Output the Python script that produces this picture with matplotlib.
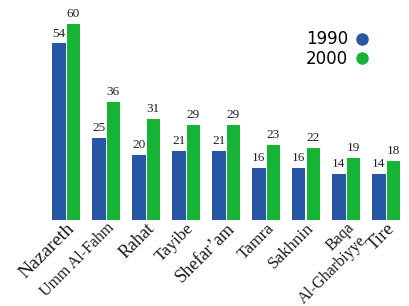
import numpy as np
import matplotlib.pyplot as plt
from matplotlib.lines import Line2D

cities = ['Nazareth', 'Umm Al-Fahm', 'Rahat', 'Tayibe', 'Shefar\u2019am',
          'Tamra', 'Sakhnin', 'Baqa\nAl-Gharbiyye', 'Tire']
v1990 = [54, 25, 20, 21, 21, 16, 16, 14, 14]
v2000 = [60, 36, 31, 29, 29, 23, 22, 19, 18]
label_sizes = [14, 11.5, 13, 12.5, 13, 12.5, 12.5, 11.5, 13.5]

blue = '#2756a6'
green = '#15b435'

fig = plt.figure(figsize=(4.09, 3.06), dpi=100)
ax = fig.add_axes([40/409, 86/306, 369/409, 220/306])

x = np.arange(len(cities))
w = 0.33
b1 = ax.bar(x - w/2 - 0.0125, v1990, w, color=blue)
b2 = ax.bar(x + w/2 + 0.0125, v2000, w, color=green)

for bars, vals in ((b1, v1990), (b2, v2000)):
    for r, v in zip(bars, vals):
        ax.text(r.get_x() + r.get_width()/2, v + 1.2, str(v), ha='center', va='bottom',
                fontsize=9.5, family='Liberation Serif', color='#222222')

ax.set_xlim(-0.65, 8.575)
ax.set_ylim(0, 67.3)
ax.set_xticks(x)
ax.set_xticklabels(cities, rotation=45, ha='right', rotation_mode='anchor',
                   family='Liberation Serif', multialignment='right', color='#1a1a1a',
                   linespacing=1.15)
for t, s in zip(ax.get_xticklabels(), label_sizes):
    t.set_fontsize(s)
ax.tick_params(axis='x', length=0, pad=0)
ax.set_yticks([])
for s in ax.spines.values():
    s.set_visible(False)

handles = [Line2D([], [], marker='o', ls='', color=blue, markersize=8),
           Line2D([], [], marker='o', ls='', color=green, markersize=8)]
ax.legend(handles, ['1990', '2000'], loc='upper right', bbox_to_anchor=(0.935, 0.93),
          frameon=False, markerfirst=False, fontsize=12, handletextpad=0.3,
          labelspacing=0.1, handlelength=1)

fig.savefig('out.png', dpi=100)
